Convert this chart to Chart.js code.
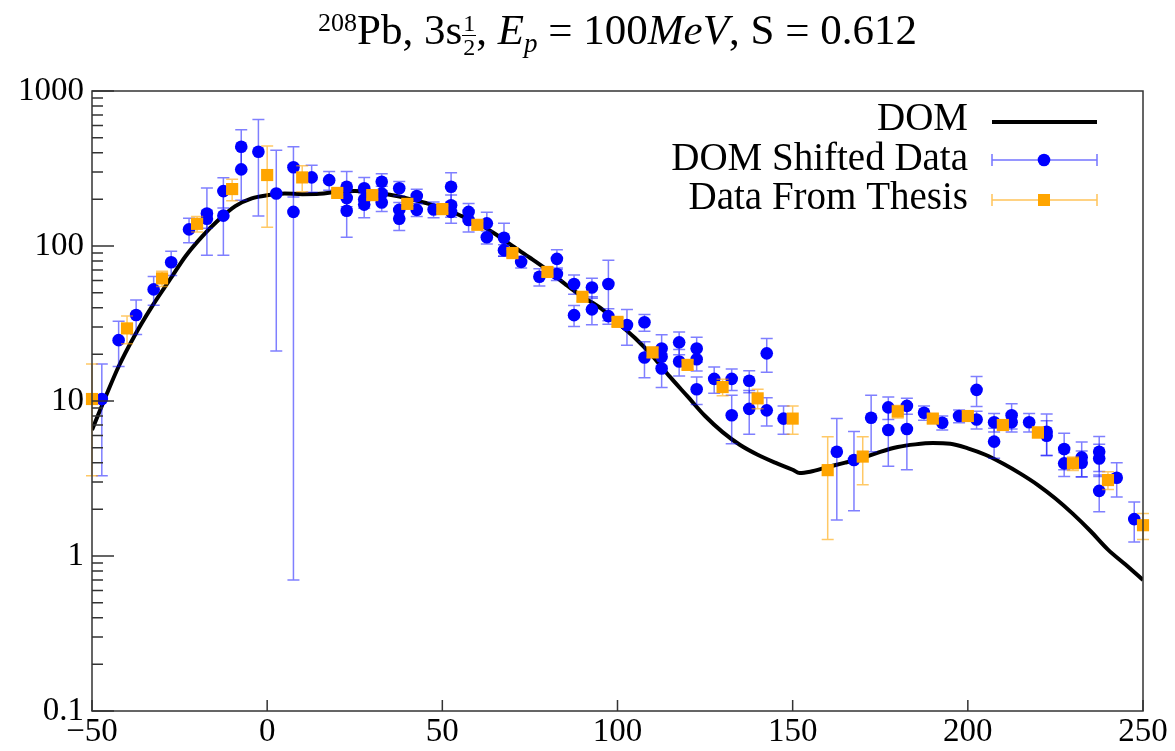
<!DOCTYPE html>
<html>
<head>
<meta charset="utf-8">
<script src="https://cdn.jsdelivr.net/npm/chart.js@4.4.1/dist/chart.umd.min.js"></script>
<style>
  html, body { margin: 0; padding: 0; background: #fff; }
  #wrap { position: relative; width: 1175px; height: 751px; }
  #title {
    position: absolute; left: 92px; width: 1051px; top: 5px;
    text-align: center; font-family: 'Liberation Serif', serif;
    font-size: 43px; line-height: 50px; color: #000; white-space: nowrap;
  }
  #title sup { font-size: 26px; vertical-align: 0.5em; line-height: 0; }
  #title sub { font-size: 27px; vertical-align: -0.3em; line-height: 0; }
  .frac { display: inline-block; vertical-align: -0.45em; text-align: center; font-size: 24px; line-height: 23px; }
  .frac span { display: block; padding: 0 1px; }
  .frac .den { border-top: 1.5px solid #000; }
</style>
</head>
<body>
<div id="wrap">
  <div id="title"><sup>208</sup>Pb, 3s<span class="frac"><span>1</span><span class="den">2</span></span>, <i>E</i><sub><i>p</i></sub> = 100<i>MeV</i>, S = 0.612</div>
  <canvas id="chart"></canvas>
</div>
<script>
// x ticks / y decades
const xTicks = [-50, 0, 50, 100, 150, 200, 250];
const yTicks = [0.1, 1, 10, 100, 1000];

// DOM curve
const domX = [-50, -46, -42.4, -38, -32.9, -27.2, -23.4, -18.6, -13.9, -9.1, -4.4, 0.4, 5, 10, 15, 20, 25, 30, 35, 40, 45, 50, 55, 60, 65, 70, 75, 80, 85, 90, 95, 100, 105, 110, 115, 120, 125, 130, 135, 140, 145, 150, 152, 155, 160, 165, 170, 175, 180, 185, 190, 195, 200, 205, 210, 215, 220, 225, 230, 235, 240, 245, 250];
const domY = [6.5, 10.8, 16.7, 26, 40.6, 63.4, 85.3, 115, 147, 181, 203, 213, 218, 216, 217, 224, 226, 222, 214, 203, 190, 176, 158, 140, 120, 100, 84, 70, 57, 47, 40, 32, 25.5, 19.5, 14.3, 10.7, 8.0, 6.3, 5.2, 4.5, 4.0, 3.6, 3.43, 3.5, 3.75, 4.0, 4.3, 4.7, 5.05, 5.25, 5.35, 5.3, 4.95, 4.5, 3.95, 3.4, 2.87, 2.35, 1.87, 1.45, 1.1, 0.88, 0.7];

// DOM shifted data
const shiftedX = [-47.2, -42.4, -37.4, -32.4, -27.4, -22.3, -17.2, -17.2, -12.5, -12.5, -7.4, -7.4, -2.5, 2.6, 7.5, 7.5, 12.7, 17.7, 22.7, 22.7, 22.7, 27.7, 27.7, 27.7, 32.7, 32.7, 32.7, 37.7, 37.7, 37.7, 42.7, 42.7, 47.5, 52.5, 52.5, 52.5, 57.5, 57.5, 62.7, 62.7, 67.6, 67.6, 72.5, 77.7, 82.7, 82.7, 87.6, 87.6, 92.7, 92.7, 97.4, 97.4, 102.7, 107.7, 107.7, 112.6, 112.6, 112.6, 117.6, 117.6, 122.6, 122.6, 122.6, 127.6, 132.6, 132.6, 137.6, 137.6, 142.6, 142.6, 147.4, 162.6, 167.5, 172.4, 177.3, 177.3, 182.6, 182.6, 187.5, 192.7, 197.5, 202.5, 202.5, 207.5, 207.5, 212.5, 212.5, 217.5, 222.5, 222.5, 227.5, 227.5, 232.5, 232.5, 237.5, 237.5, 237.5, 242.5, 247.5];
const shiftedY = [10.3, 24.7, 35.9, 52.5, 78.5, 128, 162, 150, 226, 157, 437, 312, 406, 218, 322, 166, 277, 266, 241, 204, 169, 236, 200, 185, 260, 218, 191, 236, 171, 150, 210, 171, 172, 241, 183, 166, 166, 147, 140, 114, 113, 94, 79, 63.3, 82.6, 66, 56.9, 35.8, 54, 39, 56.9, 35.3, 30.9, 32.2, 19.1, 21.8, 19.3, 16.2, 23.9, 18.0, 21.8, 18.6, 11.9, 13.9, 13.9, 8.1, 13.5, 8.9, 20.3, 8.7, 7.7, 4.71, 4.16, 7.8, 9.1, 6.5, 9.3, 6.6, 8.4, 7.24, 8.0, 11.8, 7.6, 7.3, 5.47, 8.1, 7.3, 7.3, 6.34, 5.97, 4.9, 3.96, 4.33, 4.0, 4.71, 4.26, 2.63, 3.2, 1.73];
const shiftedErr = [7, 8, 9, 11, 14, 23, 75, 20, 50, 70, 125, 115, 250, 197, 115, 165.3, 55, 37, 62, 30, 55, 41, 25, 33, 33, 25, 24, 25, 20, 24, 22, 16, 20, 56, 30, 26, 22, 24, 25, 11, 27, 8, 7, 8, 12, 6, 8, 5.5, 8, 8, 24, 4, 8, 4, 5, 5, 3, 4, 4, 3.5, 4, 3, 2.4, 2.7, 2.2, 2.8, 2.2, 2.8, 5, 1.8, 1.6, 3, 2.2, 3.1, 1.5, 2.7, 1.1, 3, 0.9, 0.75, 0.75, 2.6, 1.0, 1.0, 1.2, 1.5, 1.0, 1.0, 1.9, 1.5, 1.3, 0.7, 1.1, 0.75, 1.2, 1.0, 0.7, 0.8, 0.5];

// Data from thesis
const thesisX = [-50, -40, -30, -20, -10, 0, 10, 20, 30, 40, 50, 60, 70, 80, 90, 100, 110, 120, 130, 140, 150, 160, 170, 180, 190, 200, 210, 220, 230, 240, 250];
const thesisY = [10.3, 29.4, 61.8, 139, 233, 287, 277, 220, 213, 187, 173, 137, 90, 68, 47, 32.4, 20.6, 17.1, 12.3, 10.4, 7.7, 3.58, 4.38, 8.56, 7.7, 8.0, 7.0, 6.27, 3.96, 3.09, 1.58];
const thesisErr = [7, 6, 7, 16, 37, 155, 53, 12, 12, 10, 9, 8, 5, 4, 3, 2, 1.5, 1.2, 1.5, 1.5, 1.6, 2.3, 1.5, 0.8, 0.5, 0.5, 0.5, 0.5, 0.4, 0.4, 0.3];

const FONT = "'Liberation Serif', serif";
const BLUE = '#0000ff';
const ORANGE = '#ffa500';

function toPoints(xs, ys) {
  return xs.map((x, i) => ({ x: x, y: ys[i] }));
}

// error bars, drawn just before each dataset's own points
const errorBarPlugin = {
  id: 'errorBars',
  beforeDatasetDraw(chart, args) {
    const ds = chart.data.datasets[args.index];
    if (!ds.errors) return;
    const xs = chart.scales.x, ys = chart.scales.y, area = chart.chartArea;
    const ctx = chart.ctx;
    ctx.save();
    ctx.beginPath();
    ctx.rect(area.left - 8, area.top, area.right - area.left + 16, area.bottom - area.top);
    ctx.clip();
    ctx.strokeStyle = ds.errorColor;
    ctx.lineWidth = 1.5;
    ds.data.forEach((p, i) => {
      const e = ds.errors[i];
      const px = xs.getPixelForValue(p.x);
      const yTop = ys.getPixelForValue(p.y + e);
      const lo = p.y - e;
      const yBot = lo > 0 ? ys.getPixelForValue(lo) : area.bottom + 5;
      ctx.beginPath();
      ctx.moveTo(px, yTop); ctx.lineTo(px, yBot);
      ctx.moveTo(px - 6, yTop); ctx.lineTo(px + 6, yTop);
      ctx.moveTo(px - 6, yBot); ctx.lineTo(px + 6, yBot);
      ctx.stroke();
    });
    ctx.restore();
  }
};

// frame, inward ticks and legend
const framePlugin = {
  id: 'frame',
  afterDraw(chart) {
    const ctx = chart.ctx, a = chart.chartArea;
    const xs = chart.scales.x, ys = chart.scales.y;
    ctx.save();
    ctx.strokeStyle = '#333';
    ctx.lineWidth = 1.5;
    ctx.strokeRect(a.left, a.top, a.right - a.left, a.bottom - a.top);

    ctx.beginPath();
    yTicks.forEach((v, k) => {
      const y = ys.getPixelForValue(v);
      ctx.moveTo(a.left, y); ctx.lineTo(a.left + 22, y);
      if (k < yTicks.length - 1) {
        for (let m = 2; m <= 9; m++) {
          const ym = ys.getPixelForValue(v * m);
          ctx.moveTo(a.left, ym); ctx.lineTo(a.left + 11, ym);
        }
      }
    });
    xTicks.forEach(v => {
      const x = xs.getPixelForValue(v);
      ctx.moveTo(x, a.bottom); ctx.lineTo(x, a.bottom - 11);
    });
    ctx.stroke();

    // legend
    ctx.font = '39px ' + FONT;
    ctx.fillStyle = '#000';
    ctx.textAlign = 'right';
    ctx.textBaseline = 'middle';
    const tx = 968, sx0 = 992, sx1 = 1097, sc = 1044;
    ctx.fillText('DOM', tx, 120);
    ctx.fillText('DOM Shifted Data', tx, 160);
    ctx.fillText('Data From Thesis', tx, 199);

    ctx.strokeStyle = '#000';
    ctx.lineWidth = 4;
    ctx.beginPath(); ctx.moveTo(sx0, 122); ctx.lineTo(sx1, 122); ctx.stroke();

    ctx.lineWidth = 1.5;
    ctx.strokeStyle = 'rgba(0,0,255,0.55)';
    ctx.beginPath();
    ctx.moveTo(sx0, 160); ctx.lineTo(sx1, 160);
    ctx.moveTo(sx0, 154); ctx.lineTo(sx0, 166);
    ctx.moveTo(sx1, 154); ctx.lineTo(sx1, 166);
    ctx.stroke();
    ctx.fillStyle = BLUE;
    ctx.beginPath(); ctx.arc(sc, 160, 6.3, 0, Math.PI * 2); ctx.fill();

    ctx.strokeStyle = 'rgba(255,165,0,0.65)';
    ctx.beginPath();
    ctx.moveTo(sx0, 200); ctx.lineTo(sx1, 200);
    ctx.moveTo(sx0, 194); ctx.lineTo(sx0, 206);
    ctx.moveTo(sx1, 194); ctx.lineTo(sx1, 206);
    ctx.stroke();
    ctx.fillStyle = ORANGE;
    ctx.fillRect(sc - 6, 194, 12, 12);
    ctx.restore();
  }
};

new Chart(document.getElementById('chart'), {
  type: 'scatter',
  data: {
    datasets: [
      {
        label: 'DOM',
        data: toPoints(domX, domY),
        showLine: true,
        borderColor: '#000',
        borderWidth: 4,
        pointRadius: 0,
        cubicInterpolationMode: 'monotone',
        order: 3
      },
      {
        label: 'DOM Shifted Data',
        data: toPoints(shiftedX, shiftedY),
        errors: shiftedErr,
        errorColor: 'rgba(0,0,255,0.5)',
        backgroundColor: BLUE,
        borderColor: BLUE,
        borderWidth: 0,
        pointRadius: 6.3,
        clip: false,
        order: 2
      },
      {
        label: 'Data From Thesis',
        data: toPoints(thesisX, thesisY),
        errors: thesisErr,
        errorColor: 'rgba(255,165,0,0.6)',
        backgroundColor: ORANGE,
        borderColor: ORANGE,
        borderWidth: 0,
        pointStyle: 'rect',
        pointRadius: 8.6,
        clip: false,
        order: 1
      }
    ]
  },
  options: {
    responsive: true,
    maintainAspectRatio: false,
    animation: false,
    layout: { padding: { top: 91, right: 32, left: 0, bottom: 0 } },
    plugins: {
      legend: { display: false },
      tooltip: { enabled: false }
    },
    scales: {
      x: {
        type: 'linear',
        min: -50,
        max: 250,
        afterFit: s => { s.height = 40; },
        afterBuildTicks: s => { s.ticks = xTicks.map(v => ({ value: v })); },
        grid: { display: false, drawTicks: false },
        border: { display: false },
        ticks: {
          padding: 2,
          color: '#000',
          font: { family: FONT, size: 33 },
          maxRotation: 0,
          callback: v => (v < 0 ? '\u2212' + Math.abs(v) : String(v))
        }
      },
      y: {
        type: 'logarithmic',
        min: 0.1,
        max: 1000,
        afterFit: s => { s.width = 92; },
        afterBuildTicks: s => { s.ticks = yTicks.map(v => ({ value: v })); },
        grid: { display: false, drawTicks: false },
        border: { display: false },
        ticks: {
          padding: 8,
          color: '#000',
          font: { family: FONT, size: 33 },
          callback: v => String(v)
        }
      }
    }
  },
  plugins: [errorBarPlugin, framePlugin]
});
</script>
</body>
</html>
